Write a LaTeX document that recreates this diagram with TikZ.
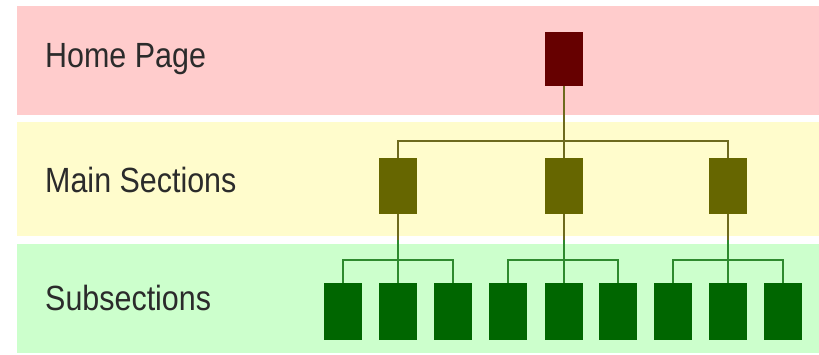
\documentclass[tikz,border=0pt]{standalone}
\usepackage{fontspec}
\newfontfamily\lblfont[FakeStretch=0.87]{Liberation Sans}
\definecolor{bandpink}{HTML}{FFCCCC}
\definecolor{bandyellow}{HTML}{FFFCCC}
\definecolor{bandgreen}{HTML}{CCFFCC}
\definecolor{homecol}{HTML}{660000}
\definecolor{maincol}{HTML}{666600}
\definecolor{subcol}{HTML}{006600}
\definecolor{linemain}{HTML}{6E6A1E}
\definecolor{linesub}{HTML}{2E8A2E}
\definecolor{textcol}{HTML}{2B2B2B}
\begin{document}
\begin{tikzpicture}[x=1pt,y=-1pt,
  band/.style={draw=none},
  lbl/.style={anchor=base west,inner sep=0pt,text=textcol,font=\lblfont\fontsize{35}{40}\selectfont},
  pagebox/.style={draw=none,minimum width=38pt,minimum height=56pt,inner sep=0pt},
  homebox/.style={pagebox,fill=homecol,minimum height=54pt},
  mainbox/.style={pagebox,fill=maincol},
  subbox/.style={pagebox,fill=subcol,minimum height=57pt},
  mainline/.style={draw=linemain,line width=2pt},
  subline/.style={draw=linesub,line width=2pt}]
\useasboundingbox (0,0) rectangle (819,355);
\fill[white] (0,0) rectangle (819,355);
% bands
\fill[bandpink] (17,6) rectangle (819,115);
\fill[bandyellow] (17,122) rectangle (819,236);
\fill[bandgreen] (17,244) rectangle (819,353);
% labels
\node[lbl] (lhome) at (45,68) {Home Page};
\node[lbl] (lmain) at (45,193) {Main Sections};
\node[lbl] (lsub) at (45,311) {Subsections};
% boxes
\node[homebox] (home) at (563.5,59) {};
\node[mainbox] (m1) at (398,186) {};
\node[mainbox] (m2) at (563.5,186) {};
\node[mainbox] (m3) at (728,186) {};
\foreach \i/\x in {1/343,2/398,3/453,4/508,5/563.5,6/618,7/673,8/728,9/783}
  \node[subbox] (s\i) at (\x,311.5) {};
% coordinates
\coordinate (bus) at (563.5,141);
\coordinate (e1) at (398,240);
\coordinate (e2) at (563.5,240);
\coordinate (e3) at (728,240);
% home to main
\draw[mainline] (home.south) -- (bus);
\draw[mainline] (m1.north) |- (bus) -| (m3.north);
\draw[mainline] (bus) -- (m2.north);
% main to subsections
\draw[mainline] (m1.south) -- (e1);
\draw[mainline] (m2.south) -- (e2);
\draw[mainline] (m3.south) -- (e3);
\draw[subline] (e1) -- (s2.north);
\draw[subline] (e2) -- (s5.north);
\draw[subline] (e3) -- (s8.north);
\draw[subline] (s1.north) -- ++(0,-23) -| (s3.north);
\draw[subline] (s4.north) -- ++(0,-23) -| (s6.north);
\draw[subline] (s7.north) -- ++(0,-23) -| (s9.north);
\end{tikzpicture}
\end{document}
